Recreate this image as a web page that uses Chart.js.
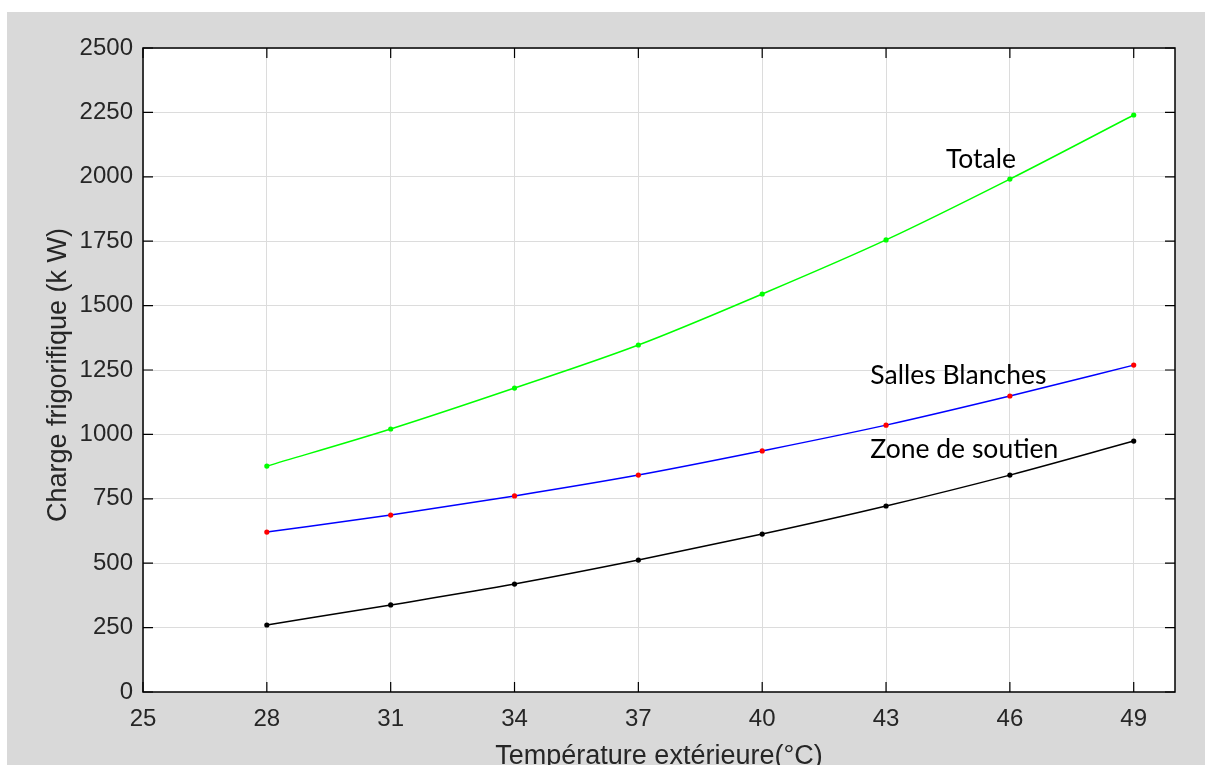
<!DOCTYPE html>
<html>
<head>
<meta charset="utf-8">
<script src="https://cdn.jsdelivr.net/npm/chart.js@4.4.1/dist/chart.umd.min.js"></script>
<style>
  html, body { margin: 0; padding: 0; background: #fff; }
  canvas { display: block; }
</style>
</head>
<body>
<canvas id="chart" width="1205" height="765"></canvas>
<script>
// temperatures (°C)
const temperatures = [28, 31, 34, 37, 40, 43, 46, 49];
// cooling load (kW)
const totale = [877, 1021, 1180, 1347, 1545, 1755, 1991, 2240];
const sallesBlanches = [621, 687, 761, 842, 936, 1036, 1149, 1269];
const zoneSoutien = [260, 338, 419, 512, 613, 722, 842, 974];
const xTicks = [25, 28, 31, 34, 37, 40, 43, 46, 49];

const labels = [
  { text: "Totale", x: 44.45, y: 2034 },
  { text: "Salles Blanches", x: 42.62, y: 1196 },
  { text: "Zone de soutien", x: 42.62, y: 908 }
];

const toPoints = (ys) => temperatures.map((t, i) => ({ x: t, y: ys[i] }));
const TEXT = "#262626";
const TICK_FONT = { family: "'Liberation Sans', Arial, sans-serif", size: 24 };

const figure = {
  id: "figure",
  beforeDraw(chart) {
    const { ctx, chartArea: a } = chart;
    ctx.save();
    ctx.fillStyle = "#fff";
    ctx.fillRect(0, 0, chart.width, chart.height);
    ctx.fillStyle = "#d9d9d9";
    ctx.fillRect(7, 12, chart.width - 7, chart.height - 12);
    ctx.fillStyle = "#fff";
    ctx.fillRect(a.left, a.top, a.right - a.left, a.bottom - a.top);
    ctx.restore();
  },
  afterDatasetsDraw(chart) {
    const { ctx, chartArea: a, scales: { x, y } } = chart;
    ctx.save();
    // box
    ctx.strokeStyle = "#000";
    ctx.lineWidth = 1.5;
    ctx.strokeRect(a.left, a.top, a.right - a.left, a.bottom - a.top);
    // inward ticks on all sides
    ctx.lineWidth = 1.2;
    ctx.beginPath();
    xTicks.forEach(v => {
      const px = x.getPixelForValue(v);
      ctx.moveTo(px, a.bottom); ctx.lineTo(px, a.bottom - 10);
      ctx.moveTo(px, a.top); ctx.lineTo(px, a.top + 10);
    });
    y.ticks.forEach(t => {
      const py = y.getPixelForValue(t.value);
      ctx.moveTo(a.left, py); ctx.lineTo(a.left + 10, py);
      ctx.moveTo(a.right, py); ctx.lineTo(a.right - 10, py);
    });
    ctx.stroke();
    // curve labels
    ctx.fillStyle = "#000";
    ctx.font = "26.5px Lato, 'Open Sans', sans-serif";
    ctx.textBaseline = "alphabetic";
    ctx.textAlign = "left";
    labels.forEach(l => {
      ctx.fillText(l.text, x.getPixelForValue(l.x), y.getPixelForValue(l.y));
    });
    // axis titles
    ctx.fillStyle = TEXT;
    ctx.font = "27px 'Liberation Sans', Arial, sans-serif";
    ctx.textAlign = "center";
    ctx.fillText("Température extérieure(°C)", (a.left + a.right) / 2, 764);
    ctx.translate(66, (a.top + a.bottom) / 2 + 5);
    ctx.rotate(-Math.PI / 2);
    ctx.fillText("Charge frigorifique (k W)", 0, 0);
    ctx.restore();
  }
};

new Chart(document.getElementById("chart"), {
  type: "line",
  plugins: [figure],
  data: {
    datasets: [
      {
        label: "Totale",
        data: toPoints(totale),
        borderColor: "#00ff00",
        backgroundColor: "#00ff00",
        pointBorderColor: "#00ff00",
        pointBackgroundColor: "#00ff00"
      },
      {
        label: "Salles Blanches",
        data: toPoints(sallesBlanches),
        borderColor: "#0000ff",
        backgroundColor: "#ff0000",
        pointBorderColor: "#ff0000",
        pointBackgroundColor: "#ff0000"
      },
      {
        label: "Zone de soutien",
        data: toPoints(zoneSoutien),
        borderColor: "#000000",
        backgroundColor: "#000000",
        pointBorderColor: "#000000",
        pointBackgroundColor: "#000000"
      }
    ]
  },
  options: {
    responsive: false,
    animation: false,
    layout: { padding: { left: 0, top: 48, right: 30, bottom: 0 } },
    elements: {
      line: { borderWidth: 1.5, cubicInterpolationMode: "monotone" },
      point: { radius: 2.6, borderWidth: 0, hoverRadius: 2.6 }
    },
    plugins: {
      legend: { display: false },
      tooltip: { enabled: false }
    },
    scales: {
      x: {
        type: "linear",
        min: 25,
        max: 50,
        afterBuildTicks: (scale) => { scale.ticks = xTicks.map(v => ({ value: v })); },
        afterFit: (scale) => { scale.height = 73; },
        grid: { color: "#dcdcdc", lineWidth: 1, drawTicks: false },
        border: { display: false },
        ticks: { color: TEXT, font: TICK_FONT, padding: 13, maxRotation: 0, autoSkip: false,
                 callback: (v) => String(v) }
      },
      y: {
        min: 0,
        max: 2500,
        afterFit: (scale) => { scale.width = 143; },
        grid: { color: "#dcdcdc", lineWidth: 1, drawTicks: false },
        border: { display: false },
        ticks: { color: TEXT, font: TICK_FONT, padding: 10, stepSize: 250,
                 callback: (v) => String(v) }
      }
    }
  }
});
</script>
</body>
</html>
